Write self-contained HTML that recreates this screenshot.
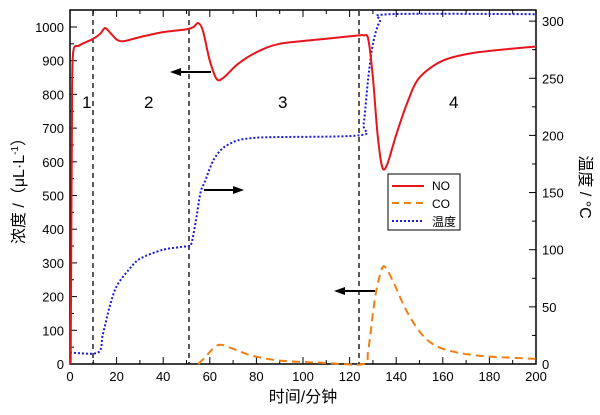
<!DOCTYPE html><html><head><meta charset="utf-8"><style>body{margin:0;background:#fff}svg{display:block;font-family:"Liberation Sans","Noto Sans CJK SC",sans-serif}</style></head><body>
<svg id="s" width="600" height="415" viewBox="0 0 600 415" xmlns="http://www.w3.org/2000/svg">
<rect x="70" y="10" width="466" height="354" fill="none" stroke="#000" stroke-width="1.5"/>
<g id="ax" font-size="13" fill="#000"></g>
<g stroke="#000" stroke-width="1.3" stroke-dasharray="5,4">
<line x1="93" y1="11" x2="93" y2="364"/><line x1="189" y1="11" x2="189" y2="364"/><line x1="359" y1="11" x2="359" y2="364"/></g>
<path id="co" fill="none" stroke="#f07f12" stroke-width="2" stroke-dasharray="8,5"/>
<path id="tp" fill="none" stroke="#1a1adc" stroke-width="2" stroke-dasharray="2,2"/>
<path id="no" fill="none" stroke="#e8141c" stroke-width="2"/>
<g font-size="17"><text x="82" y="108">1</text><text x="144" y="108">2</text><text x="278" y="108">3</text><text x="449" y="108">4</text></g>
<g stroke="#000" stroke-width="2"><line x1="211" y1="72" x2="178" y2="72"/><line x1="204" y1="190" x2="236" y2="190"/><line x1="375" y1="291" x2="342" y2="291"/></g>
<g fill="#000"><path d="M170 72l11-4v8z"/><path d="M244 190l-11-4v8z"/><path d="M334 291l11-4v8z"/></g>
<rect x="388" y="174" width="72" height="56" fill="#fff" stroke="#000"/>
<line x1="392" y1="186" x2="424" y2="186" stroke="#e8141c" stroke-width="2"/>
<line x1="392" y1="203" x2="424" y2="203" stroke="#f07f12" stroke-width="2" stroke-dasharray="7,5"/>
<line x1="392" y1="221" x2="424" y2="221" stroke="#1a1adc" stroke-width="2" stroke-dasharray="2,2"/>
<g font-size="12"><text x="432" y="190">NO</text><text x="432" y="208">CO</text><text x="432" y="226">温度</text></g>
<text x="303" y="402" font-size="16" text-anchor="middle">时间/分钟</text>
<text transform="translate(24,187) rotate(-90)" font-size="16" text-anchor="middle">浓度 /（μL·L<tspan font-size="10" dy="-6">-1</tspan><tspan dy="6">）</tspan></text>
<text transform="translate(580,187) rotate(90)" font-size="16" text-anchor="middle">温度 / °C</text>
</svg>
<script>
const X=t=>70+t*2.33,Y=v=>364-v*0.337,T=v=>364-v*1.143;
function p(id,pts,f){const P=pts.map(q=>[X(q[0]),f(q[1])]);let d='M'+P[0].join(' ');
for(let i=0;i<P.length-1;i++){const a=P[i-1]||P[i],b=P[i],c=P[i+1],e=P[i+2]||c;const k=0.15;
d+=`C${(b[0]+(c[0]-a[0])*k).toFixed(1)} ${(b[1]+(c[1]-a[1])*k).toFixed(1)} ${(c[0]-(e[0]-b[0])*k).toFixed(1)} ${(c[1]-(e[1]-b[1])*k).toFixed(1)} ${c[0].toFixed(1)} ${c[1].toFixed(1)}`}
document.getElementById(id).setAttribute('d',d)}
p('no',[[0.3,0],[0.8,700],[1.3,920],[4,945],[10,965],[13,980],[15,997],[17,985],[20,963],[23,958],[30,970],[40,985],[50,993],[53,1000],[55,1012],[57,990],[60,900],[63,845],[66,850],[72,890],[80,925],[90,950],[110,965],[124,975],[126,975],[128,965],[130,850],[132,680],[134,585],[136,590],[140,680],[145,780],[150,850],[160,900],[175,925],[200,942]],Y);
p('tp',[[0,10],[12,10],[14,25],[17,50],[20,68],[25,82],[30,92],[40,100],[50,103],[52,105],[54,125],[56,150],[58,160],[62,180],[68,192],[80,198],[124,200],[126,210],[128,250],[130,280],[133,300],[137,306],[200,306]],T);
p('co',[[55,0],[58,20],[62,50],[65,57],[70,45],[78,25],[90,10],[110,3],[126,0],[128,40],[131,200],[134,285],[136,280],[139,240],[145,150],[152,80],[160,45],[175,25],[200,15]],Y);
let g=document.getElementById('ax'),h='';
for(let t=0;t<=200;t+=10){let x=X(t);h+=`<line x1="${x}" y1="364" x2="${x}" y2="${t%20?360:357}" stroke="#000"/><line x1="${x}" y1="10" x2="${x}" y2="${t%20?14:17}" stroke="#000"/>`;if(t%20==0)h+=`<text x="${x}" y="381" text-anchor="middle">${t}</text>`}
for(let v=0;v<=1000;v+=50){let y=Y(v);h+=`<line x1="70" y1="${y}" x2="${v%100?74:77}" y2="${y}" stroke="#000"/>`;if(v%100==0)h+=`<text x="64" y="${y+5}" text-anchor="end">${v}</text>`}
for(let v=0;v<=300;v+=25){let y=T(v);h+=`<line x1="536" y1="${y}" x2="${v%50?532:529}" y2="${y}" stroke="#000"/>`;if(v%50==0)h+=`<text x="542" y="${y+5}">${v}</text>`}
g.innerHTML=h;
</script>
</body></html>
